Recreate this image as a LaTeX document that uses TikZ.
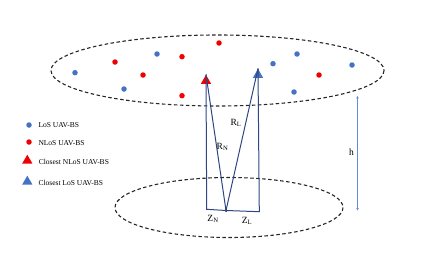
\documentclass[tikz,border=0pt]{standalone}
\usepackage{fontspec}
\setmainfont{Liberation Serif}
\usetikzlibrary{arrows.meta, positioning, shapes.geometric}
\definecolor{losblue}{RGB}{68,114,196}
\definecolor{nlosred}{RGB}{240,0,0}
\definecolor{linknavy}{RGB}{47,70,130}
\definecolor{hblue}{RGB}{100,140,220}

\begin{document}
\begin{tikzpicture}[x=1pt, y=-1pt,
  los/.style={circle, fill=losblue, inner sep=0pt, minimum size=5.5pt},
  nlos/.style={circle, fill=nlosred, inner sep=0pt, minimum size=5.5pt},
  tri/.style={isosceles triangle, shape border rotate=90, isosceles triangle apex angle=60,
    inner sep=0pt, minimum height=9pt},
  plane/.style={draw=black!85, dashed, dash pattern=on 3.5pt off 2.5pt, line width=1.1pt},
  link/.style={draw=linknavy, line width=1pt},
  lbl/.style={font=\fontsize{7.5}{9}\selectfont, anchor=west, inner sep=0pt},
  sym/.style={font=\fontsize{9.5}{11}\selectfont, inner sep=0pt}]
\useasboundingbox (0,0) rectangle (436,273);
% planes
\draw[plane] (217.5,70.5) ellipse (166.5 and 35.5);
\draw[plane] (229,207.5) ellipse (114 and 30);
% UAV-BSs in the upper plane
\foreach \px/\py in {75/72.7, 157/54, 124/89, 273/63.7, 297/54, 294/92, 352/65}
  \node[los] at (\px,\py) {};
\foreach \px/\py in {115/62, 143/75, 182/56.7, 219/43, 182/95.7, 319/75}
  \node[nlos] at (\px,\py) {};
\node[tri, fill=nlosred, anchor=apex] (cn) at (206,74.5) {};
\node[tri, fill=losblue, anchor=apex] (cl) at (258,68.5) {};
% user and projections
\node[circle, fill=black, inner sep=0pt, minimum size=3pt] (u) at (226,210.5) {};
\coordinate (zn) at (206.7,209.3);
\coordinate (zl) at (259.3,211.7);
\draw[link] (cn.apex) -- (zn) -- (u.center) -- (zl) -- (cl.apex);
\draw[link] (u.center) -- (cn.apex);
\draw[link] (u.center) -- (cl.apex);
\node[sym] (rl) at (236,123) {R\textsubscript{L}};
\node[sym] (rn) at (222.5,147) {R\textsubscript{N}};
\node[sym] (znl) at (213,219) {Z\textsubscript{N}};
\node[sym] (zll) at (247,221) {Z\textsubscript{L}};
% height
\coordinate (ht) at (357.5,96);
\coordinate (hb) at (357.5,210.5);
\draw[hblue, line width=0.9pt, {Stealth[length=2.5pt, width=2.5pt]}-{Stealth[length=2.5pt, width=2.5pt]}] (ht) -- (hb);
\node[sym] (h) at (351.5,152.5) {h};
% legend
\node[los] (k1) at (29,125) {};
\node[nlos, below=17pt of k1.center, anchor=center] (k2) {};
\node[tri, fill=nlosred] (k3) at (27.3,160.7) {};
\node[tri, fill=losblue] (k4) at (27.3,181.7) {};
\node[lbl] at (38.3,125.5) {LoS UAV-BS};
\node[lbl] at (38.3,143.5) {NLoS UAV-BS};
\node[lbl] at (38.7,161.5) {Closest NLoS UAV-BS};
\node[lbl] at (38.3,182.5) {Closest LoS UAV-BS};
\end{tikzpicture}
\end{document}
